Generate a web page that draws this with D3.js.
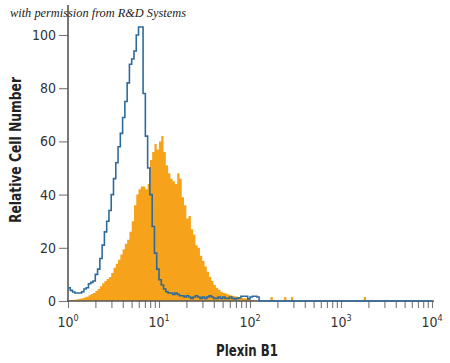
<!DOCTYPE html>
<html>
<head>
<meta charset="utf-8">
<script src="https://cdnjs.cloudflare.com/ajax/libs/d3/7.8.5/d3.min.js"></script>
<style>
  body { margin: 0; background: #fff; }
  svg { display: block; }
  .axis text { font-family: "Liberation Sans Narrow", "DejaVu Sans Condensed", sans-serif; font-size: 14px; fill: #333; }
  .title { font-family: "Liberation Sans Narrow", "DejaVu Sans Condensed", sans-serif; font-size: 16px; font-weight: bold; fill: #222; }
</style>
</head>
<body>
<svg id="chart" width="450" height="363"></svg>
<script>
// channel width in decades (log10 units), histograms start at 10^0
var binStep = 0.025;

// isotype control (blue outline)
var blueCounts = [
  5, 4, 3.4, 3, 3, 3, 3.5, 4.5, 5, 6.5,
  7, 7.5, 10, 12, 16, 21, 26, 30, 34, 40,
  46, 52, 58, 63, 69, 75, 82, 89, 91, 94,
  100, 103, 103, 78, 62, 50, 40, 28, 18, 12,
  8, 6, 4.5, 3.5, 3, 3, 2.5, 3, 2.5, 2,
  2, 1.5, 2, 1.5, 1, 1.5, 2, 1.5, 1, 1.5,
  1, 1.5, 2, 1.5, 1, 1, 1.5, 1, 1.5, 1,
  1, 1.5, 1, 0.8, 1, 1.2, 1.8, 1.8, 1.8, 0.8,
  1.5, 1.8, 1.8, 1.5, 0, 0, 0, 0, 0, 0,
  0, 0, 0, 0, 0, 0, 0, 0, 0, 0,
  0, 0, 0, 0, 0, 0, 0, 0, 0, 0,
  0, 0, 0, 0, 0, 0, 0, 0, 0, 0,
  0, 0, 0, 0, 0, 0, 0, 0, 0, 0,
  0, 0, 0, 0, 0, 0, 0, 0, 0, 0,
  0, 0, 0, 0, 0, 0, 0, 0, 0, 0,
  0, 0, 0, 0, 0, 0, 0, 0, 0, 0
];

// Plexin B1 stained (orange fill)
var orangeCounts = [
  0.3, 0.4, 0.5, 0.5, 0.7, 0.8, 1, 1.3, 1.6, 2.2,
  2.6, 3, 3.8, 4.5, 5.5, 6.7, 7.5, 8.3, 9, 10.5,
  12.5, 14, 15.5, 17.5, 19.5, 21.5, 23, 26, 30, 36,
  40, 42, 43, 43, 42, 44, 53, 56, 59, 57,
  60, 62, 56, 51, 48, 46, 45, 44, 48, 46,
  39, 36, 31, 32, 27, 25, 21, 20, 17, 15,
  13, 11, 9, 7.5, 6, 5, 4.2, 3.5, 3, 2.8,
  2.4, 2.2, 2, 1.8, 1.6, 1.5, 1.2, 1, 0.9, 0.7,
  0.5, 0.3, 0.2, 0.1, 0, 0, 0, 0, 0, 1.5,
  0, 0, 0, 0, 0, 1.5, 0, 0, 1.5, 0,
  0, 0, 0, 0, 0, 0, 0, 0, 0, 0,
  0, 0, 0, 0, 0, 0, 0, 0, 0, 0,
  0, 0, 0, 0, 0, 0, 0, 0, 0, 0,
  1.5, 0, 0, 0, 0, 0, 0, 0, 0, 0,
  0, 0, 0, 0, 0, 0, 0, 0, 0, 0,
  0, 0, 0, 0, 0, 0, 0, 0, 0, 0
];

var yTicks = [0, 20, 40, 60, 80, 100];
var xDecades = [0, 1, 2, 3, 4];

var svg = d3.select("#chart");

var x = d3.scaleLog()
  .domain([1, 1e4])
  .range([68, 432]);

var y = d3.scaleLinear()
  .domain([0, 100])
  .range([301, 35]);

// turn counts into step points, last edge repeats the last value
function toPoints(counts) {
  var pts = counts.map(function(c, i) {
    return { v: Math.pow(10, i * binStep), c: c };
  });
  pts.push({ v: Math.pow(10, counts.length * binStep), c: counts[counts.length - 1] });
  return pts;
}

var area = d3.area()
  .curve(d3.curveStepAfter)
  .x(function(d) { return x(d.v); })
  .y0(y(0))
  .y1(function(d) { return y(d.c); });

var line = d3.line()
  .curve(d3.curveStepAfter)
  .x(function(d) { return x(d.v); })
  .y(function(d) { return y(d.c); });

svg.append("path")
  .datum(toPoints(orangeCounts))
  .attr("d", area)
  .attr("fill", "#f7a21b");

// axes
var minorTicks = [];
xDecades.forEach(function(p) {
  for (var k = 1; k < 10; k++) {
    var v = k * Math.pow(10, p);
    if (v <= 1e4) minorTicks.push(v);
  }
});

var xAxis = d3.axisBottom(x)
  .tickValues(minorTicks)
  .tickSize(7)
  .tickSizeOuter(0)
  .tickFormat("");

var gx = svg.append("g")
  .attr("class", "axis")
  .attr("transform", "translate(0," + y(0) + ")")
  .call(xAxis);
gx.select(".domain").remove();
gx.selectAll(".tick line").attr("stroke", "#777").attr("stroke-width", 1.1);

gx.selectAll(".dlabel")
  .data(xDecades)
  .enter().append("text")
  .attr("class", "dlabel")
  .attr("x", function(d) { return x(Math.pow(10, d)); })
  .attr("y", 26)
  .attr("text-anchor", "middle")
  .each(function(d) {
    var t = d3.select(this);
    t.append("tspan").text("10");
    t.append("tspan").attr("dy", -6).attr("font-size", "9px").text(d);
  });

var yAxis = d3.axisLeft(y)
  .tickValues(yTicks)
  .tickSize(9)
  .tickSizeOuter(0)
  .tickPadding(3);

var gy = svg.append("g")
  .attr("class", "axis")
  .attr("transform", "translate(68,0)")
  .call(yAxis);
gy.select(".domain").remove();
gy.selectAll(".tick line").attr("stroke", "#777").attr("stroke-width", 1.1);

svg.append("line")
  .attr("x1", 68).attr("x2", 68)
  .attr("y1", 5).attr("y2", y(0))
  .attr("stroke", "#555").attr("stroke-width", 1.6);

svg.append("line")
  .attr("x1", 67).attr("x2", 434)
  .attr("y1", y(0)).attr("y2", y(0))
  .attr("stroke", "#555").attr("stroke-width", 1.6);

// control outline on top
svg.append("path")
  .datum(toPoints(blueCounts))
  .attr("d", line)
  .attr("fill", "none")
  .attr("stroke", "#2f6b9a")
  .attr("stroke-width", 1.6);

// titles
svg.append("text")
  .attr("class", "title")
  .attr("x", 247)
  .attr("y", 356)
  .attr("text-anchor", "middle")
  .attr("textLength", 62)
  .attr("lengthAdjust", "spacingAndGlyphs")
  .text("Plexin B1");

svg.append("text")
  .attr("class", "title")
  .attr("transform", "translate(21,150) rotate(-90)")
  .attr("text-anchor", "middle")
  .attr("textLength", 146)
  .attr("lengthAdjust", "spacingAndGlyphs")
  .text("Relative Cell Number");

svg.append("text")
  .attr("x", 10)
  .attr("y", 17)
  .attr("font-family", "'Liberation Serif', 'DejaVu Serif', serif")
  .attr("font-style", "italic")
  .attr("font-size", "12px")
  .attr("textLength", 176)
  .attr("lengthAdjust", "spacingAndGlyphs")
  .attr("fill", "#222")
  .text("with permission from R&D Systems");
</script>
</body>
</html>
